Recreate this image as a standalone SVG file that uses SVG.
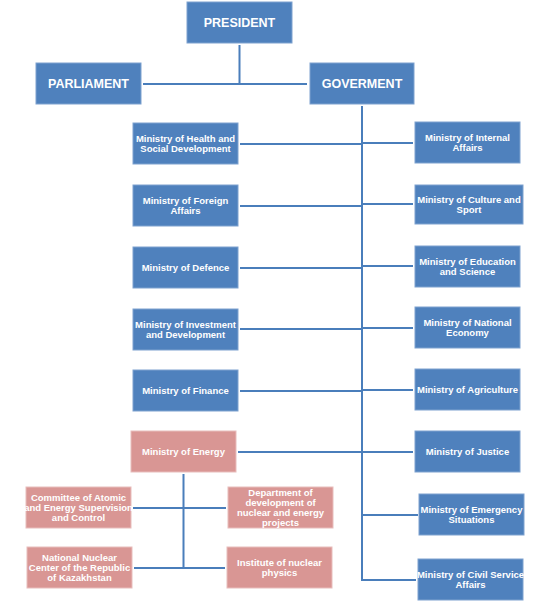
<svg xmlns="http://www.w3.org/2000/svg" width="549" height="609" viewBox="0 0 549 609">
<style>
.b{fill:#4F81BD;stroke:#7EA2CF;stroke-width:1}
.p{fill:#D99694;stroke:#E8BDBC;stroke-width:1}
text{font-family:"Liberation Sans",Arial,sans-serif;font-weight:bold;fill:#FFFFFF;text-anchor:middle}
.t{font-size:9.5px}
.h{font-size:12.5px}
.c{fill:none;stroke:#4A7EBB;stroke-width:2}
</style>
<rect width="549" height="609" fill="#FFFFFF"/>
<g id="connectors">
<path class="c" d="M239.5 45V84M143 84H307"/>
<path class="c" d="M362 106V580H416"/>
<path class="c" d="M240 144H362M240 206H362M240 268H362M240 329H362M240 391H362M238 452H413"/>
<path class="c" d="M362 143H413M362 204H413M362 266H413M362 328H413M362 390H413M362 515H418"/>
<path class="c" d="M183.5 474V568M133 508H226M134 568H225"/>
</g>
<g id="president"><rect class="b" x="187" y="2" width="105" height="41"/><text class="h" x="239.5" y="27" font-size="12">PRESIDENT</text></g>
<g id="parliament"><rect class="b" x="36" y="63" width="105" height="41"/><text class="h" x="88.5" y="88">PARLIAMENT</text></g>
<g id="government"><rect class="b" x="310" y="63" width="104" height="41"/><text class="h" x="362" y="88">GOVERMENT</text></g>
<g id="health"><rect class="b" x="133" y="123" width="105" height="41"/><text class="t" x="185.5" y="141.8">Ministry of Health and</text><text class="t" x="185.5" y="151.8">Social Development</text></g>
<g id="foreign"><rect class="b" x="133" y="185" width="105" height="41"/><text class="t" x="185.5" y="203.8">Ministry of Foreign</text><text class="t" x="185.5" y="213.8">Affairs</text></g>
<g id="defence"><rect class="b" x="133" y="247" width="105" height="41"/><text class="t" x="185.5" y="270.8">Ministry of Defence</text></g>
<g id="investment"><rect class="b" x="133" y="309" width="105" height="41"/><text class="t" x="185.5" y="327.8">Ministry of Investment</text><text class="t" x="185.5" y="337.8">and Development</text></g>
<g id="finance"><rect class="b" x="133" y="370" width="105" height="41"/><text class="t" x="185.5" y="393.8">Ministry of Finance</text></g>
<g id="energy"><rect class="p" x="131" y="431" width="105" height="41"/><text class="t" x="183.5" y="454.8">Ministry of Energy</text></g>
<g id="internal"><rect class="b" x="415" y="122" width="105" height="41"/><text class="t" x="467.5" y="140.8">Ministry of Internal</text><text class="t" x="467.5" y="150.8">Affairs</text></g>
<g id="culture"><rect class="b" x="415" y="185" width="108" height="39"/><text class="t" x="469" y="202.8">Ministry of Culture and</text><text class="t" x="469" y="212.8">Sport</text></g>
<g id="education"><rect class="b" x="415" y="246" width="105" height="41"/><text class="t" x="467.5" y="264.8">Ministry of Education</text><text class="t" x="467.5" y="274.8">and Science</text></g>
<g id="economy"><rect class="b" x="415" y="307" width="105" height="41"/><text class="t" x="467.5" y="325.8">Ministry of National</text><text class="t" x="467.5" y="335.8">Economy</text></g>
<g id="agriculture"><rect class="b" x="415" y="369" width="105" height="41"/><text class="t" x="467.5" y="392.8">Ministry of Agriculture</text></g>
<g id="justice"><rect class="b" x="415" y="431" width="105" height="41"/><text class="t" x="467.5" y="454.8">Ministry of Justice</text></g>
<g id="emergency"><rect class="b" x="419" y="494" width="105" height="41"/><text class="t" x="471.5" y="512.8">Ministry of Emergency</text><text class="t" x="471.5" y="522.8">Situations</text></g>
<g id="civil"><rect class="b" x="418" y="559" width="105" height="41"/><text class="t" x="470.5" y="577.8">Ministry of Civil Service</text><text class="t" x="470.5" y="587.8">Affairs</text></g>
<g id="committee"><rect class="p" x="26" y="487" width="105" height="41"/><text class="t" x="78.5" y="500.8">Committee of Atomic</text><text class="t" x="78.5" y="510.8">and Energy Supervision</text><text class="t" x="78.5" y="520.8">and Control</text></g>
<g id="department"><rect class="p" x="228" y="487" width="105" height="41"/><text class="t" x="280.5" y="495.8">Department of</text><text class="t" x="280.5" y="505.8">development of</text><text class="t" x="280.5" y="515.8">nuclear and energy</text><text class="t" x="280.5" y="525.8">projects</text></g>
<g id="national"><rect class="p" x="27" y="547" width="105" height="41"/><text class="t" x="79.5" y="560.8">National Nuclear</text><text class="t" x="79.5" y="570.8">Center of the Republic</text><text class="t" x="79.5" y="580.8">of Kazakhstan</text></g>
<g id="institute"><rect class="p" x="227" y="547" width="105" height="41"/><text class="t" x="279.5" y="565.8">Institute of nuclear</text><text class="t" x="279.5" y="575.8">physics</text></g>
</svg>
